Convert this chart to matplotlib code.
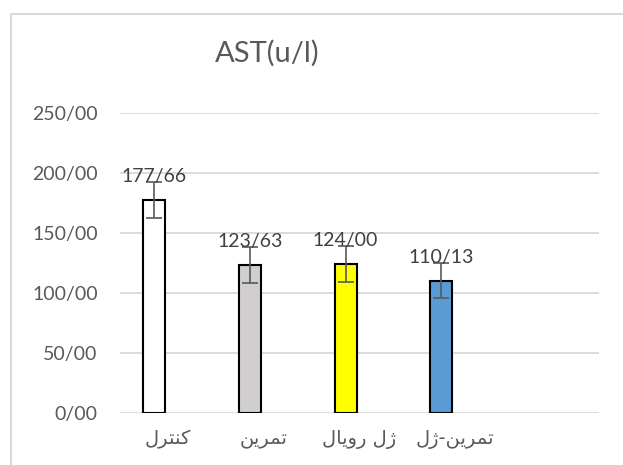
import matplotlib
matplotlib.use("Agg")
import matplotlib.pyplot as plt
from matplotlib.lines import Line2D

# Category labels (Persian), pre-shaped with presentation forms and laid out
# in visual (left-to-right) order since matplotlib does no bidi shaping.
categories = [
    "\uFEDD\uFEAE\uFE98\uFEE8\uFEDB",            # کنترل
    "\uFEE6\uFEF3\uFEAE\uFEE4\uFE97",            # تمرین
    "\u0644\uFE8E\uFEF3\u0648\u0631 \u0644\u0698",  # ژل رویال
    "\u0644\u0698-\uFEE6\uFEF3\uFEAE\uFEE4\uFE97",  # تمرین-ژل
]
values = [177.66, 123.63, 124.00, 110.13]
errors = [15.0, 15.0, 15.0, 14.5]
value_labels = ["177/66", "123/63", "124/00", "110/13"]
yticks = [0, 50, 100, 150, 200, 250]
ytick_labels = ["0/00", "50/00", "100/00", "150/00", "200/00", "250/00"]
title = "AST(u/l)"

_BAR_COLORS = ["#FFFFFF", "#D0CECE", "#FFFF00", "#5B9BD5"]
_TEXT = "#595959"
_GRID = "#D9D9D9"
_N_SLOTS = 5          # Excel left an empty fifth category
_BAR_WIDTH = 0.23
_BAR_OFFSET = -0.145  # first series of a two-series cluster

W, H = 623, 465
fig = plt.figure(figsize=(W / 100, H / 100), dpi=100)
ax = fig.add_axes([120 / W, (H - 413) / H, (599 - 120) / W, 300 / H])

x = [i + _BAR_OFFSET for i in range(len(values))]
ax.bar(x, values, width=_BAR_WIDTH, color=_BAR_COLORS, edgecolor="black",
       linewidth=1.5, zorder=3)
ax.errorbar(x, values, yerr=errors, fmt="none", ecolor=_TEXT, elinewidth=1.2,
            capsize=6, capthick=1.2, zorder=4)

for xi, v, lab in zip(x, values, value_labels):
    ax.annotate(lab, (xi, v), xytext=(0, 17), textcoords="offset points",
                ha="center", va="center", fontsize=14, color="#404040",
                family="Lato", zorder=5)

ax.set_xlim(-0.5, _N_SLOTS - 0.5)
ax.set_ylim(0, 250)
ax.set_yticks(yticks)
ax.set_yticklabels(ytick_labels, family="Lato", fontsize=14, color=_TEXT)
ax.set_xticks(range(len(categories)))
ax.set_xticklabels(categories, family="DejaVu Sans", fontsize=14, color=_TEXT)
ax.tick_params(axis="both", length=0)
ax.tick_params(axis="y", pad=16)
ax.tick_params(axis="x", pad=12)
ax.grid(axis="y", color=_GRID, linewidth=1.3, zorder=0)
for s in ax.spines.values():
    s.set_visible(False)

fig.text(267 / W, 1 - 53 / H, title, ha="center", va="center", fontsize=21,
         color=_TEXT, family="Lato")

# chart-area border (only top and left edges fall inside the crop)
fig.add_artist(Line2D([11 / W, 11 / W], [0, 1 - 14 / H], color=_GRID, lw=1.5,
                      transform=fig.transFigure))
fig.add_artist(Line2D([11 / W, 1], [1 - 14 / H, 1 - 14 / H], color=_GRID, lw=1.5,
                      transform=fig.transFigure))

fig.savefig("out.png", dpi=100)
